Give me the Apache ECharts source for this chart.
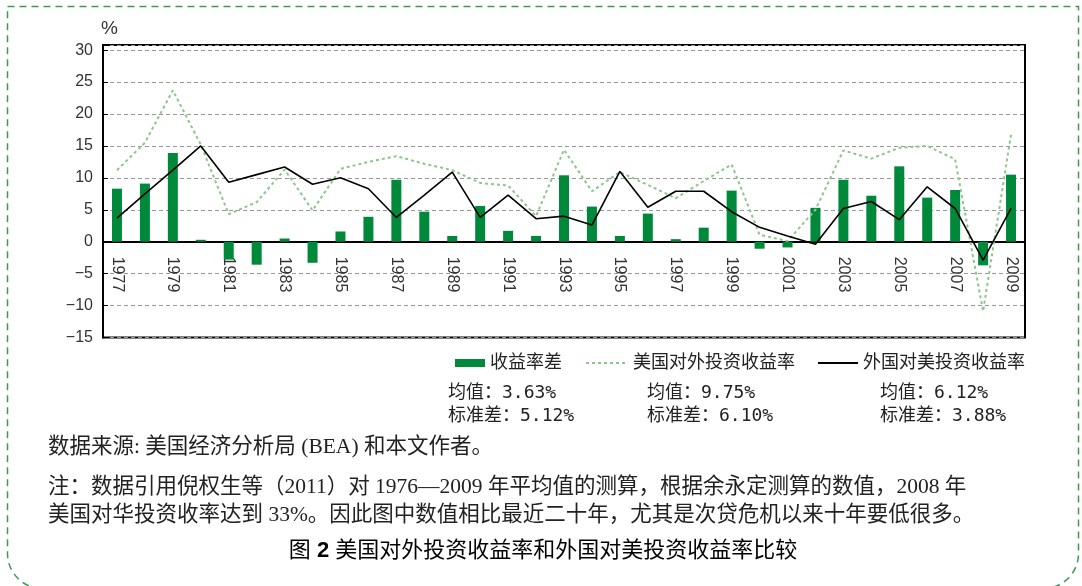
<!DOCTYPE html>
<html><head><meta charset="utf-8">
<script src="https://cdn.jsdelivr.net/npm/echarts@6/dist/echarts.min.js"></script>
<style>html,body{margin:0;padding:0;background:#fff}#c{width:1082px;height:586px}</style>
</head><body><div id="c"></div>
<script>
const years = ['1977','1978','1979','1980','1981','1982','1983','1984','1985','1986','1987','1988','1989','1990','1991','1992','1993','1994','1995','1996','1997','1998','1999','2000','2001','2002','2003','2004','2005','2006','2007','2008','2009'];
const diffRate = [8.3,9.1,13.9,0.3,-2.8,-3.6,0.5,-3.3,1.6,3.9,9.7,4.7,0.9,5.6,1.7,0.9,10.4,5.5,0.9,4.4,0.4,2.2,8.0,-1.1,-0.9,5.3,9.7,7.2,11.8,6.9,8.1,-3.7,10.5];
const usOutward = [11.2,15.5,23.7,15.2,4.3,6.2,11.3,4.9,11.4,12.5,13.4,12.2,11.2,9.2,8.8,4.0,14.4,7.9,10.9,8.9,6.8,9.5,12.1,1.1,0.1,5.0,14.3,13.0,14.7,15.0,12.9,-10.9,16.8];
const foreignInward = [3.7,7.5,11.2,15.0,9.3,10.5,11.7,9.0,10.0,8.3,3.8,7.3,10.9,3.8,7.3,3.6,4.0,2.6,11.0,5.4,7.9,7.9,4.7,2.25,0.9,-0.4,5.2,6.3,3.45,8.6,5.2,-2.9,5.2];
const seriesNames = ['收益率差','美国对外投资收益率','外国对美投资收益率'];
const statMeans = ['均值：3.63%','均值：9.75%','均值：6.12%'];
const statStds = ['标准差：5.12%','标准差：6.10%','标准差：3.88%'];
const sourceText = '数据来源: 美国经济分析局 (BEA) 和本文作者。';
const noteLine1 = '注：数据引用倪权生等（2011）对 1976—2009 年平均值的测算，根据余永定测算的数值，2008 年';
const noteLine2 = '美国对华投资收率达到 33%。因此图中数值相比最近二十年，尤其是次贷危机以来十年要低很多。';
const figTitleA = '图 ';
const figTitleB = '2';
const figTitleC = ' 美国对外投资收益率和外国对美投资收益率比较';

const chart = echarts.init(document.getElementById('c'));
const sans = "'Liberation Sans','Noto Sans CJK SC',sans-serif";
const serif = "'Liberation Serif','Noto Sans CJK SC',serif";
const mono = "'DejaVu Sans Mono','Noto Sans CJK SC',monospace";
const statX = [448, 647, 880];

const graphics = [
  {type:'rect', shape:{x:7.5,y:6.5,width:1071,height:582,r:[0,0,35,35]},
   style:{fill:'none',stroke:'#3a9c55',lineWidth:1.5,lineDash:[7,5]}, silent:true},
  {type:'text', x:101, y:29, style:{text:'%', fontSize:19, fontFamily:sans, fill:'#333', verticalAlign:'middle'}},
  {type:'text', x:48, y:447, style:{text:sourceText, fontSize:21.5, fontFamily:serif, fill:'#222', verticalAlign:'middle'}},
  {type:'text', x:48, y:487, style:{text:noteLine1, fontSize:21.5, fontFamily:serif, fill:'#222', verticalAlign:'middle'}},
  {type:'text', x:48, y:515, style:{text:noteLine2, fontSize:21.5, fontFamily:serif, fill:'#222', verticalAlign:'middle'}},
  {type:'text', x:543, y:551, style:{
    text:'{a|'+figTitleA+'}{b|'+figTitleB+'}{a|'+figTitleC+'}',
    align:'center', verticalAlign:'middle',
    rich:{a:{fontSize:22,fontFamily:sans,color:'#555'},b:{fontSize:22,fontFamily:sans,fontWeight:'bold',color:'#555'}}
  }}
];
statX.forEach((x,i)=>{
  graphics.push({type:'text', x:x, y:393, style:{text:statMeans[i], fontSize:18, fontFamily:mono, fill:'#222', verticalAlign:'middle'}});
  graphics.push({type:'text', x:x, y:416, style:{text:statStds[i], fontSize:18, fontFamily:mono, fill:'#222', verticalAlign:'middle'}});
});

const legendText = {fontSize:18, color:'#222', fontFamily:sans};
const option = {
  animation:false,
  grid:{left:103, top:45, width:922, height:292.5, show:true, borderColor:'#000', borderWidth:2, backgroundColor:'transparent'},
  legend:[
    {data:[seriesNames[0]], left:450, top:349, itemWidth:30, itemHeight:8, icon:'rect', textStyle:legendText, selectedMode:false},
    {data:[seriesNames[1]], left:580, top:349, itemWidth:42, itemHeight:14, textStyle:legendText, selectedMode:false, itemStyle:{opacity:0}},
    {data:[seriesNames[2]], left:812, top:349, itemWidth:40, itemHeight:14, textStyle:legendText, selectedMode:false, itemStyle:{opacity:0}}
  ],
  xAxis:{
    type:'category', data:years, boundaryGap:true, position:'bottom', offset:0,
    axisLine:{onZero:false, lineStyle:{color:'#000', width:2}},
    axisTick:{show:false},
    axisLabel:{interval:1, rotate:-90, margin:15, fontSize:16, color:'#333', fontFamily:sans},
    splitLine:{show:false}
  },
  yAxis:{
    type:'value', min:-15, max:30.8, interval:5,
    axisLine:{show:true, lineStyle:{color:'#000', width:2}},
    axisTick:{show:true, inside:true, length:5, lineStyle:{color:'#000'}},
    axisLabel:{fontSize:16, color:'#333', fontFamily:sans, margin:10,
      formatter:v=> (Math.abs(v % 5) < 1e-9 ? String(v).replace('-', '\u2212') : '')},
    splitLine:{show:true, lineStyle:{color:'#999', width:1, type:[4,3]}}
  },
  series:[
    {name:seriesNames[0], type:'bar', data:diffRate, barWidth:10, itemStyle:{color:'#00893a'}},
    {name:seriesNames[1], type:'line', data:usOutward, symbol:'none', lineStyle:{color:'#8cc68a', width:2, type:[3,3]}, itemStyle:{color:'#8cc68a'}},
    {name:seriesNames[2], type:'line', data:foreignInward, symbol:'none', lineStyle:{color:'#000', width:1.6}, itemStyle:{color:'#000'}}
  ],
  graphic:graphics
};
chart.setOption(option);
const zeroY = chart.convertToPixel({yAxisIndex:0}, 0);
const bottomY = chart.convertToPixel({yAxisIndex:0}, -15);
chart.setOption({xAxis:{offset: zeroY - bottomY}});
</script>
</body></html>
